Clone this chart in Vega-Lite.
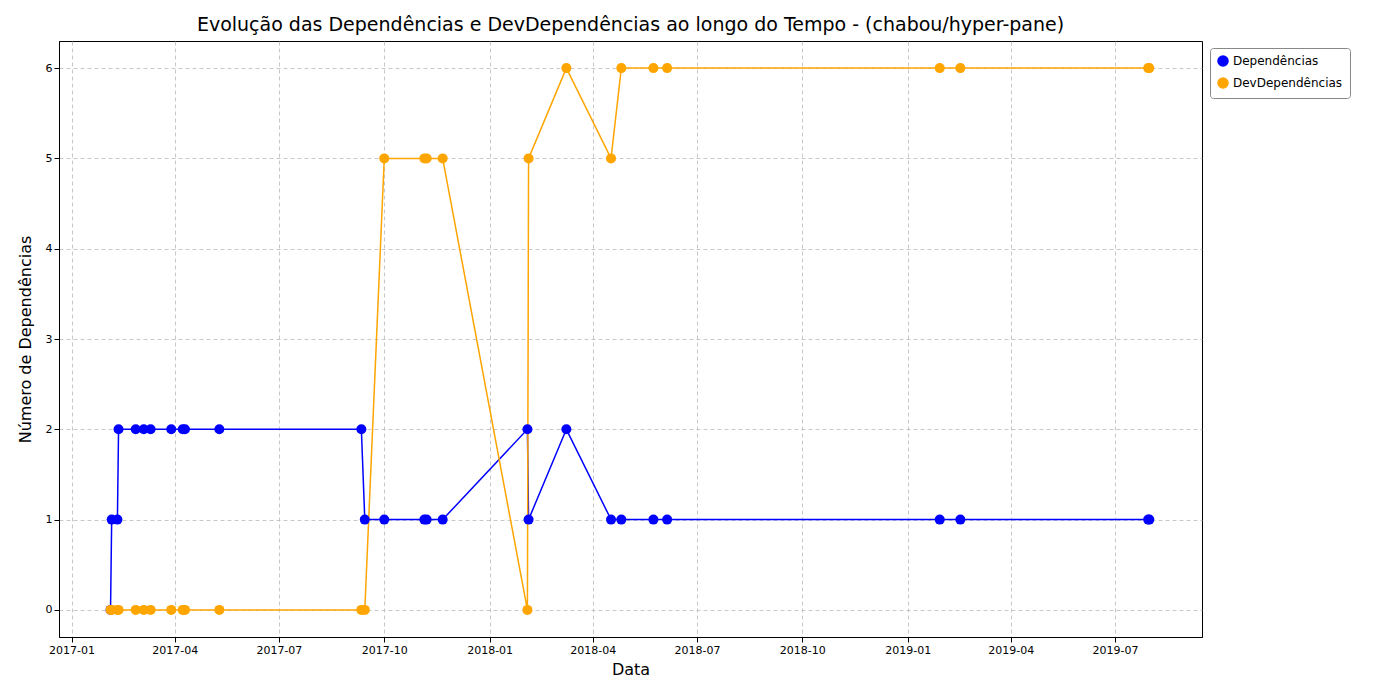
{
  "$schema": "https://vega.github.io/schema/vega-lite/v6.json",
  "autosize": "none",
  "padding": {"left": 59, "top": 41, "right": 198, "bottom": 63},
  "width": 1143,
  "height": 596,
  "config": {"font": "DejaVu Sans", "view": {"stroke": "black"}},
  "title": {"text": "Evolução das Dependências e DevDependências ao longo do Tempo - (chabou/hyper-pane)", "fontSize": 19, "fontWeight": "normal", "offset": 6, "color": "black"},
  "data": {"values": [
    {"date": "2017-02-04", "Dependências": 0, "DevDependências": 0},
    {"date": "2017-02-05", "Dependências": 1, "DevDependências": 0},
    {"date": "2017-02-10", "Dependências": 1, "DevDependências": 0},
    {"date": "2017-02-11", "Dependências": 2, "DevDependências": 0},
    {"date": "2017-02-26", "Dependências": 2, "DevDependências": 0},
    {"date": "2017-03-05", "Dependências": 2, "DevDependências": 0},
    {"date": "2017-03-11", "Dependências": 2, "DevDependências": 0},
    {"date": "2017-03-29", "Dependências": 2, "DevDependências": 0},
    {"date": "2017-04-08", "Dependências": 2, "DevDependências": 0},
    {"date": "2017-04-10", "Dependências": 2, "DevDependências": 0},
    {"date": "2017-05-10", "Dependências": 2, "DevDependências": 0},
    {"date": "2017-09-11", "Dependências": 2, "DevDependências": 0},
    {"date": "2017-09-14", "Dependências": 1, "DevDependências": 0},
    {"date": "2017-10-01", "Dependências": 1, "DevDependências": 5},
    {"date": "2017-11-05", "Dependências": 1, "DevDependências": 5},
    {"date": "2017-11-07", "Dependências": 1, "DevDependências": 5},
    {"date": "2017-11-21", "Dependências": 1, "DevDependências": 5},
    {"date": "2018-02-03", "Dependências": 2, "DevDependências": 0},
    {"date": "2018-02-04", "Dependências": 1, "DevDependências": 5},
    {"date": "2018-03-09", "Dependências": 2, "DevDependências": 6},
    {"date": "2018-04-17", "Dependências": 1, "DevDependências": 5},
    {"date": "2018-04-26", "Dependências": 1, "DevDependências": 6},
    {"date": "2018-05-24", "Dependências": 1, "DevDependências": 6},
    {"date": "2018-06-05", "Dependências": 1, "DevDependências": 6},
    {"date": "2019-01-29", "Dependências": 1, "DevDependências": 6},
    {"date": "2019-02-16", "Dependências": 1, "DevDependências": 6},
    {"date": "2019-07-30", "Dependências": 1, "DevDependências": 6},
    {"date": "2019-07-31", "Dependências": 1, "DevDependências": 6}
  ]},
  "transform": [{"fold": ["Dependências", "DevDependências"], "as": ["serie", "valor"]}],
  "encoding": {
    "x": {"field": "date", "type": "temporal", "title": "Data",
      "scale": {"domain": ["2016-12-21", "2019-09-15"]},
      "axis": {"format": "%Y-%m", "values": ["2017-01-01", "2017-04-01", "2017-07-01", "2017-10-01", "2018-01-01", "2018-04-01", "2018-07-01", "2018-10-01", "2019-01-01", "2019-04-01", "2019-07-01"],
        "grid": true, "gridDash": [4, 3], "gridColor": "#b0b0b0", "gridOpacity": 0.7,
        "labelFontSize": 11, "labelColor": "black", "titleFontSize": 16, "titleFontWeight": "normal", "titleColor": "black", "titlePadding": 6, "tickColor": "black", "domainColor": "black", "labelFlush": false}},
    "y": {"field": "valor", "type": "quantitative", "title": "Número de Dependências",
      "scale": {"domain": [-0.3, 6.3], "nice": false, "zero": false},
      "axis": {"values": [0, 1, 2, 3, 4, 5, 6], "grid": true, "gridDash": [4, 3], "gridColor": "#b0b0b0", "gridOpacity": 0.7,
        "labelFontSize": 11, "labelColor": "black", "titleFontSize": 16, "titleFontWeight": "normal", "titleColor": "black", "titlePadding": 12, "tickColor": "black", "domainColor": "black"}},
    "color": {"field": "serie", "type": "nominal",
      "scale": {"domain": ["Dependências", "DevDependências"], "range": ["blue", "orange"]},
      "legend": {"title": null, "orient": "none", "legendX": 1151, "legendY": 7, "labelFontSize": 12, "labelColor": "black", "symbolType": "circle", "symbolSize": 100, "symbolOpacity": 1, "rowPadding": 6,
        "strokeColor": "#888888", "padding": 7, "cornerRadius": 3, "fillColor": "white"}}
  },
  "layer": [
    {"mark": {"type": "line", "strokeWidth": 1.5}},
    {"mark": {"type": "circle", "size": 100, "opacity": 1}}
  ]
}
